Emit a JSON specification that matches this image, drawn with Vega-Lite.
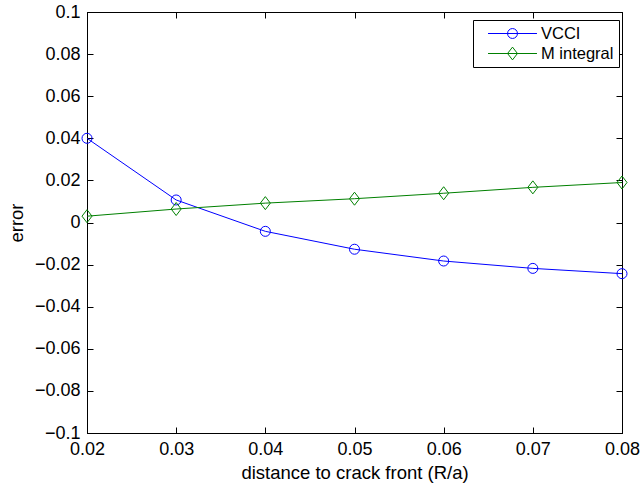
{
  "$schema": "https://vega.github.io/schema/vega-lite/v6.json",
  "width": 535,
  "height": 421,
  "autosize": {"type": "none"},
  "padding": {"left": 87, "top": 12, "right": 20, "bottom": 58},
  "background": "white",
  "config": {
    "view": {"stroke": "black", "strokeWidth": 1},
    "font": "Liberation Sans",
    "axis": {
      "grid": false,
      "domainColor": "black",
      "tickColor": "black",
      "labelColor": "black",
      "titleColor": "black",
      "labelFont": "Liberation Sans",
      "titleFont": "Liberation Sans",
      "labelFontSize": 18,
      "titleFontSize": 18.5,
      "titleFontWeight": "normal",
      "tickSize": -6,
      "labelPadding": 13,
      "labelFlush": false
    },
    "legend": {
      "labelFont": "Liberation Sans",
      "labelFontSize": 16.5,
      "labelColor": "black"
    }
  },
  "data": {
    "values": [
      {"x": 0.02, "series": "VCCI", "error": 0.0400},
      {"x": 0.03, "series": "VCCI", "error": 0.0107},
      {"x": 0.04, "series": "VCCI", "error": -0.0042},
      {"x": 0.05, "series": "VCCI", "error": -0.0127},
      {"x": 0.06, "series": "VCCI", "error": -0.0183},
      {"x": 0.07, "series": "VCCI", "error": -0.0218},
      {"x": 0.08, "series": "VCCI", "error": -0.0243},
      {"x": 0.02, "series": "M integral", "error": 0.0030},
      {"x": 0.03, "series": "M integral", "error": 0.0064},
      {"x": 0.04, "series": "M integral", "error": 0.0092},
      {"x": 0.05, "series": "M integral", "error": 0.0113},
      {"x": 0.06, "series": "M integral", "error": 0.0139},
      {"x": 0.07, "series": "M integral", "error": 0.0167},
      {"x": 0.08, "series": "M integral", "error": 0.0190}
    ]
  },
  "layer": [
    {
      "mark": {"type": "line", "strokeWidth": 1},
      "encoding": {
        "x": {"field": "x", "type": "quantitative",
          "scale": {"domain": [0.02, 0.08], "nice": false, "zero": false},
          "axis": {"orient": "bottom", "title": "distance to crack front (R/a)", "values": [0.02, 0.03, 0.04, 0.05, 0.06, 0.07, 0.08], "format": ".2~f", "titlePadding": 5}},
        "y": {"field": "error", "type": "quantitative",
          "scale": {"domain": [-0.1, 0.1], "nice": false, "zero": false},
          "axis": {"orient": "left", "title": "error", "values": [-0.1, -0.08, -0.06, -0.04, -0.02, 0, 0.02, 0.04, 0.06, 0.08, 0.1], "format": ".2~f", "titlePadding": 8}},
        "color": {"field": "series", "type": "nominal",
          "scale": {"domain": ["VCCI", "M integral"], "range": ["#0000ff", "#008000"]},
          "legend": null}
      }
    },
    {
      "mark": {"type": "point", "filled": false, "strokeWidth": 1, "opacity": 1},
      "encoding": {
        "x": {"field": "x", "type": "quantitative",
          "scale": {"domain": [0.02, 0.08], "nice": false, "zero": false},
          "axis": {"orient": "top", "title": null, "labels": false, "values": [0.02, 0.03, 0.04, 0.05, 0.06, 0.07, 0.08]}},
        "y": {"field": "error", "type": "quantitative",
          "scale": {"domain": [-0.1, 0.1], "nice": false, "zero": false},
          "axis": {"orient": "right", "title": null, "labels": false, "values": [-0.1, -0.08, -0.06, -0.04, -0.02, 0, 0.02, 0.04, 0.06, 0.08, 0.1]}},
        "color": {"field": "series", "type": "nominal",
          "scale": {"domain": ["VCCI", "M integral"], "range": ["#0000ff", "#008000"]},
          "legend": null},
        "shape": {"field": "series", "type": "nominal",
          "scale": {"domain": ["VCCI", "M integral"], "range": ["circle", "M0,-1.3L1,0L0,1.3L-1,0Z"]},
          "legend": null},
        "size": {"value": 100}
      }
    },
    {
      "transform": [{"filter": "datum.x > 1"}],
      "mark": {"type": "point", "filled": false, "strokeWidth": 1, "opacity": 1},
      "encoding": {
        "x": {"field": "x", "type": "quantitative", "scale": {"domain": [0.02, 0.08], "nice": false, "zero": false}, "axis": null},
        "y": {"field": "error", "type": "quantitative", "scale": {"domain": [-0.1, 0.1], "nice": false, "zero": false}, "axis": null},
        "color": {"field": "series", "type": "nominal",
          "scale": {"domain": ["VCCI", "M integral"], "range": ["#0000ff", "#008000"]},
          "legend": {
            "title": null,
            "orient": "none",
            "legendX": 386,
            "legendY": 8,
            "strokeColor": "black",
            "fillColor": "white",
            "padding": 5,
            "symbolSize": 256,
            "symbolStrokeWidth": 1,
            "symbolOffset": 26,
            "labelOffset": 20,
            "rowPadding": 3,
            "labelFontSize": 16.5
          }},
        "shape": {"field": "series", "type": "nominal",
          "scale": {"domain": ["VCCI", "M integral"], "range": [
            "M-3.06,0L3.06,0M-0.62,0A0.62,0.62,0,1,1,0.62,0A0.62,0.62,0,1,1,-0.62,0",
            "M-3.06,0L3.06,0M0,-0.8L0.62,0L0,0.8L-0.62,0Z"
          ]},
          "legend": {
            "title": null,
            "orient": "none",
            "legendX": 386,
            "legendY": 8,
            "strokeColor": "black",
            "fillColor": "white",
            "padding": 5,
            "symbolSize": 256,
            "symbolStrokeWidth": 1,
            "symbolOffset": 26,
            "labelOffset": 20,
            "rowPadding": 3,
            "labelFontSize": 16.5
          }}
      }
    }
  ],
  "resolve": {
    "scale": {"shape": "independent", "color": "independent"},
    "axis": {"x": "independent", "y": "independent"},
    "legend": {"color": "independent", "shape": "independent"}
  }
}
